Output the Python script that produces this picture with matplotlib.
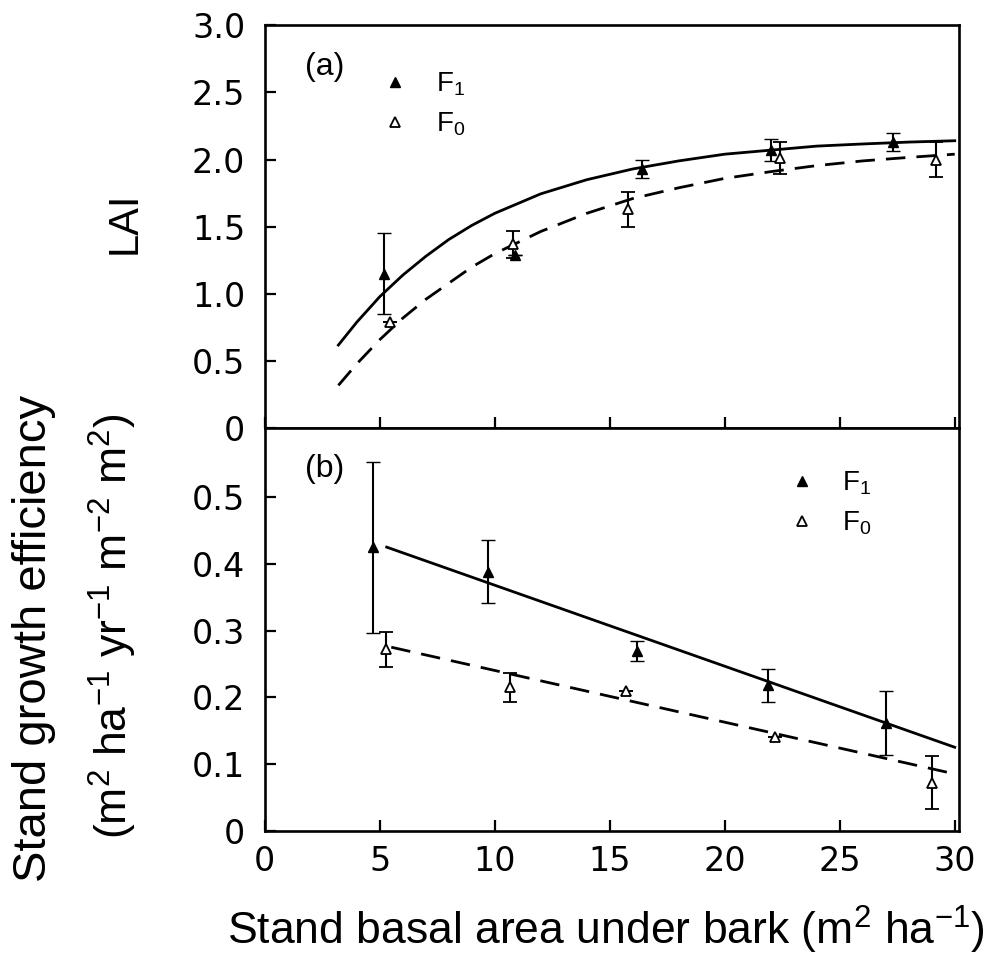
import matplotlib
matplotlib.use("Agg")
import matplotlib.pyplot as plt
from matplotlib.lines import Line2D
from matplotlib import font_manager as fm

# ---------------- data ----------------
# Panel (a): LAI
a_f1_x = [5.2, 10.9, 16.4, 22.0, 27.3]
a_f1_y = [1.15, 1.29, 1.93, 2.07, 2.13]
a_f1_err = [0.30, 0.0, 0.07, 0.08, 0.07]
a_f0_x = [5.45, 10.8, 15.8, 22.4, 29.2]
a_f0_y = [0.79, 1.37, 1.63, 2.01, 2.00]
a_f0_err = [0.0, 0.10, 0.13, 0.12, 0.13]

a_fit_x = [3.2, 4, 5, 6, 7, 8, 9, 10, 12, 14, 16, 18, 20, 22, 24, 26, 28, 30]
a_fit_f1 = [0.62, 0.79, 0.98, 1.14, 1.28, 1.405, 1.51, 1.60, 1.745, 1.85, 1.93,
            1.99, 2.04, 2.07, 2.10, 2.116, 2.13, 2.14]
a_fit_f0 = [0.32, 0.48, 0.66, 0.82, 0.96, 1.08, 1.20, 1.30, 1.465, 1.60, 1.71,
            1.79, 1.86, 1.91, 1.955, 1.99, 2.016, 2.04]

# Panel (b): stand growth efficiency
b_f1_x = [4.7, 9.7, 16.2, 21.9, 27.0]
b_f1_y = [0.425, 0.388, 0.270, 0.218, 0.162]
b_f1_err = [0.128, 0.047, 0.015, 0.025, 0.048]
b_f0_x = [5.25, 10.65, 15.7, 22.2, 29.0]
b_f0_y = [0.272, 0.215, 0.210, 0.140, 0.072]
b_f0_err = [0.026, 0.022, 0.0, 0.0, 0.040]

b_fit_f1_x = [5.3, 30.0]
b_fit_f1_y = [0.425, 0.125]
b_fit_f0_x = [5.5, 30.0]
b_fit_f0_y = [0.275, 0.085]

a_yticks = [0, 0.5, 1.0, 1.5, 2.0, 2.5, 3.0]
a_yticklabels = ["0", "0.5", "1.0", "1.5", "2.0", "2.5", "3.0"]
b_yticks = [0, 0.1, 0.2, 0.3, 0.4, 0.5]
b_yticklabels = ["0", "0.1", "0.2", "0.3", "0.4", "0.5"]
xticks = [0, 5, 10, 15, 20, 25, 30]
xticklabels = ["0", "5", "10", "15", "20", "25", "30"]

# ---------------- fonts ----------------
def has_font(name):
    try:
        fm.findfont(fm.FontProperties(family=name), fallback_to_default=False)
        return True
    except Exception:
        return False

base_font = "Liberation Sans" if has_font("Liberation Sans") else "DejaVu Sans"
tick_font = "DejaVu Sans"

plt.rcParams["font.family"] = [base_font, "DejaVu Sans"]
plt.rcParams["mathtext.fontset"] = "custom"
plt.rcParams["mathtext.rm"] = base_font
plt.rcParams["mathtext.it"] = base_font
plt.rcParams["mathtext.default"] = "regular"

fig = plt.figure(figsize=(9.88, 9.67), dpi=100)
L, W = 0.268, 0.703
axa = fig.add_axes([L, 0.557, W, 0.417])
axb = fig.add_axes([L, 0.141, W, 0.416])

tick_fs = 24
leg_fs = 20
ms = 7.5

err_kw = dict(ecolor="black", elinewidth=1.5, capsize=5, capthick=2.4, linestyle="none")

def panel(ax, f1x, f1y, f1e, f0x, f0y, f0e):
    ax.errorbar(f1x, f1y, yerr=f1e, marker="^", ms=ms, mfc="black", mec="black",
                mew=1.0, **err_kw)
    ax.errorbar(f0x, f0y, yerr=f0e, marker="^", ms=ms, mfc="white", mec="black",
                mew=1.3, **err_kw)

# panel (a)
axa.plot(a_fit_x, a_fit_f1, color="black", lw=2.0)
axa.plot(a_fit_x, a_fit_f0, color="black", lw=2.0, dashes=(7, 4))
panel(axa, a_f1_x, a_f1_y, a_f1_err, a_f0_x, a_f0_y, a_f0_err)
axa.set_ylim(0, 3.0)
axa.set_yticks(a_yticks)
axa.set_yticklabels(a_yticklabels)

# panel (b)
axb.plot(b_fit_f1_x, b_fit_f1_y, color="black", lw=2.0)
axb.plot(b_fit_f0_x, b_fit_f0_y, color="black", lw=2.0, dashes=(7, 4))
panel(axb, b_f1_x, b_f1_y, b_f1_err, b_f0_x, b_f0_y, b_f0_err)
axb.set_ylim(0, 0.603)
axb.set_yticks(b_yticks)
axb.set_yticklabels(b_yticklabels)

for ax in (axa, axb):
    ax.set_xlim(0, 30.2)
    ax.set_xticks(xticks)
    for s in ax.spines.values():
        s.set_linewidth(1.9)
    ax.tick_params(axis="both", direction="in", length=8, width=1.6,
                   labelsize=tick_fs, top=False, right=False)
    ax.tick_params(axis="y", pad=14)
    ax.tick_params(axis="x", pad=10)
axb.set_xticklabels(xticklabels)
axa.tick_params(axis="x", labelbottom=False)
for lab in axa.get_yticklabels() + axb.get_yticklabels() + axb.get_xticklabels():
    lab.set_fontfamily(tick_font)

# legends
h1 = Line2D([], [], marker="^", ms=ms, mfc="black", mec="black", ls="none")
h0 = Line2D([], [], marker="^", ms=ms, mfc="white", mec="black", mew=1.3, ls="none")
labels = [r"F$_{1}$", r"F$_{0}$"]
for ax, anchor in ((axa, (0.152, 0.915)), (axb, (0.737, 0.925))):
    ax.legend([h1, h0], labels, loc="upper left", bbox_to_anchor=anchor,
              frameon=False, handlelength=1.0,
              handletextpad=0.95, labelspacing=0.45, borderaxespad=0,
              prop={"family": base_font, "size": leg_fs})

axa.text(0.058, 0.895, "(a)", transform=axa.transAxes, fontsize=23,
         va="center")
axb.text(0.058, 0.90, "(b)", transform=axb.transAxes, fontsize=23,
         va="center")

# axis labels
fig.text(125 / 988, 1 - 223 / 967, "LAI", rotation=90, ha="center",
         va="center", fontsize=30)
fig.text(606 / 988, 1 - 930 / 967,
         r"Stand basal area under bark (m$^{2}$ ha$^{-1}$)",
         ha="center", va="center", fontsize=32)
fig.text(34 / 988, 1 - 638 / 967, "Stand growth efficiency", rotation=90,
         ha="center", va="center", fontsize=34)
fig.text(113 / 988, 1 - 626 / 967,
         r"(m$^{2}$ ha$^{-1}$ yr$^{-1}$ m$^{-2}$ m$^{2}$)", rotation=90,
         ha="center", va="center", fontsize=32)

fig.savefig("out.png", dpi=100)
